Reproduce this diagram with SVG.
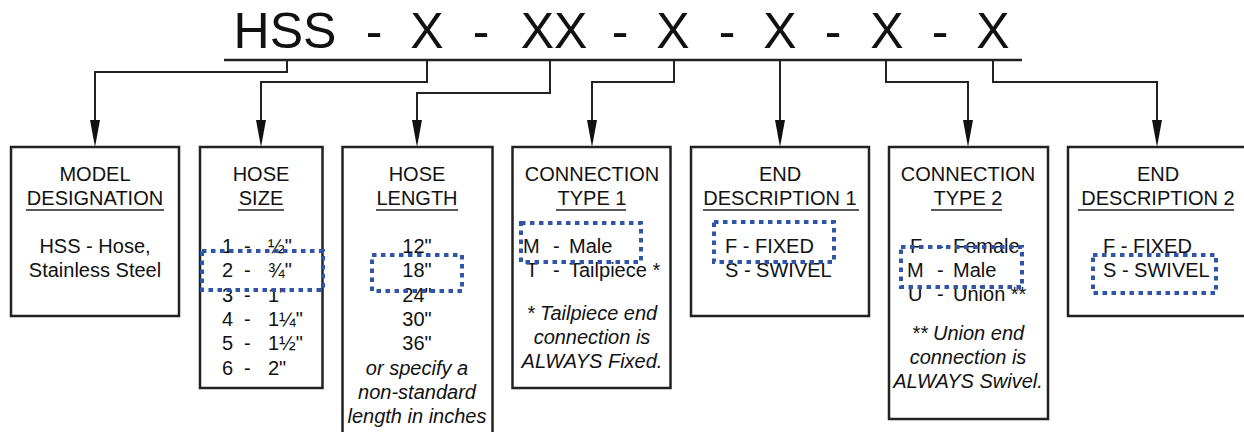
<svg xmlns="http://www.w3.org/2000/svg" width="1244" height="432" viewBox="0 0 1244 432">
  <style>
    text { font-family: "Liberation Sans", Arial, sans-serif; fill: #111; }
    .title { font-size: 50px; text-anchor: middle; }
    .t { font-size: 20px; }
    .c { text-anchor: middle; }
    .i { font-style: italic; }
    .box { fill: #fff; stroke: #222; stroke-width: 2.5; }
    .ul { stroke: #222; stroke-width: 1.6; }
    .link { fill: none; stroke: #222; stroke-width: 2; }
    .hl { fill: none; stroke: #2f55a8; stroke-width: 4; stroke-dasharray: 4.5 4.5; }
  </style>
  <defs>
    <marker id="arrow" markerUnits="userSpaceOnUse" markerWidth="28" markerHeight="11" refX="20" refY="5" orient="auto">
      <path d="M0,0 L27,5 L0,10 Z" fill="#111"/>
    </marker>
  </defs>

  <rect width="1244" height="432" fill="#fff"/>

  <!-- part number header -->
  <g id="header">
    <text class="title" y="48"><tspan x="285">HSS</tspan><tspan x="374">-</tspan><tspan x="427">X</tspan><tspan x="481">-</tspan><tspan x="554">XX</tspan><tspan x="620">-</tspan><tspan x="673">X</tspan><tspan x="727">-</tspan><tspan x="780">X</tspan><tspan x="833">-</tspan><tspan x="887">X</tspan><tspan x="940">-</tspan><tspan x="993">X</tspan></text>
    <line x1="224" y1="60" x2="1022" y2="60" stroke="#222" stroke-width="2.5"/>
  </g>

  <!-- connectors from each code field down to its box -->
  <g id="connectors">
    <polyline class="link" points="287,60 287,72 95,72 95,140" marker-end="url(#arrow)"/>
    <polyline class="link" points="427,60 427,82 261,82 261,140" marker-end="url(#arrow)"/>
    <polyline class="link" points="550,60 550,93 417,93 417,140" marker-end="url(#arrow)"/>
    <polyline class="link" points="674,60 674,82 592,82 592,140" marker-end="url(#arrow)"/>
    <polyline class="link" points="780,60 780,140" marker-end="url(#arrow)"/>
    <polyline class="link" points="886,60 886,82 968,82 968,140" marker-end="url(#arrow)"/>
    <polyline class="link" points="993,60 993,82 1157,82 1157,140" marker-end="url(#arrow)"/>
  </g>

  <!-- model designation -->
  <g id="model">
    <rect class="box" x="11" y="147" width="168" height="169"/>
    <text class="t c" x="95" y="181">MODEL</text>
    <text class="t c" x="95" y="205">DESIGNATION</text>
    <line class="ul" x1="26" y1="210" x2="164" y2="210"/>
    <text class="t c" x="95" y="253">HSS - Hose,</text>
    <text class="t c" x="95" y="277">Stainless Steel</text>
  </g>

  <!-- hose size -->
  <g id="hose-size">
    <rect class="box" x="200" y="147" width="122.5" height="241"/>
    <text class="t c" x="261" y="181">HOSE</text>
    <text class="t c" x="261" y="205">SIZE</text>
    <line class="ul" x1="238" y1="210" x2="284" y2="210"/>
    <text class="t" y="253"><tspan x="222">1</tspan><tspan x="244">-</tspan><tspan x="268">½"</tspan></text>
    <text class="t" y="277"><tspan x="222">2</tspan><tspan x="244">-</tspan><tspan x="268">¾"</tspan></text>
    <text class="t" y="302"><tspan x="222">3</tspan><tspan x="244">-</tspan><tspan x="268">1"</tspan></text>
    <text class="t" y="326"><tspan x="222">4</tspan><tspan x="244">-</tspan><tspan x="268">1¼"</tspan></text>
    <text class="t" y="350"><tspan x="222">5</tspan><tspan x="244">-</tspan><tspan x="268">1½"</tspan></text>
    <text class="t" y="375"><tspan x="222">6</tspan><tspan x="244">-</tspan><tspan x="268">2"</tspan></text>
    <rect class="hl" x="202" y="251" width="121" height="39"/>
  </g>

  <!-- hose length -->
  <g id="hose-length">
    <rect class="box" x="342.5" y="147" width="150" height="300"/>
    <text class="t c" x="417" y="181">HOSE</text>
    <text class="t c" x="417" y="205">LENGTH</text>
    <line class="ul" x1="376" y1="210" x2="458" y2="210"/>
    <text class="t c" x="417" y="253">12"</text>
    <text class="t c" x="417" y="277">18"</text>
    <text class="t c" x="417" y="302">24"</text>
    <text class="t c" x="417" y="326">30"</text>
    <text class="t c" x="417" y="350">36"</text>
    <text class="t c i" x="417" y="375">or specify a</text>
    <text class="t c i" x="417" y="399">non-standard</text>
    <text class="t c i" x="417" y="423">length in inches</text>
    <rect class="hl" x="372" y="255" width="90" height="36"/>
  </g>

  <!-- connection type 1 -->
  <g id="connection-1">
    <rect class="box" x="512.5" y="147" width="158" height="241"/>
    <text class="t c" x="592" y="181">CONNECTION</text>
    <text class="t c" x="592" y="205">TYPE 1</text>
    <line class="ul" x1="556" y1="210" x2="626" y2="210"/>
    <text class="t" y="253"><tspan x="523">M</tspan><tspan x="553">-</tspan><tspan x="569">Male</tspan></text>
    <text class="t" y="277"><tspan x="526">T</tspan><tspan x="553">-</tspan><tspan x="569">Tailpiece *</tspan></text>
    <text class="t c i" x="592" y="320">* Tailpiece end</text>
    <text class="t c i" x="592" y="344">connection is</text>
    <text class="t c i" x="592" y="368">ALWAYS Fixed.</text>
    <rect class="hl" x="521" y="223" width="120" height="39"/>
  </g>

  <!-- end description 1 -->
  <g id="end-1">
    <rect class="box" x="691" y="147" width="178" height="169"/>
    <text class="t c" x="780" y="181">END</text>
    <text class="t c" x="780" y="205">DESCRIPTION 1</text>
    <line class="ul" x1="703" y1="210" x2="859" y2="210"/>
    <text class="t" x="725" y="253">F - FIXED</text>
    <text class="t" x="725" y="277">S - SWIVEL</text>
    <rect class="hl" x="714" y="222" width="120" height="40"/>
  </g>

  <!-- connection type 2 -->
  <g id="connection-2">
    <rect class="box" x="889" y="147" width="159" height="272"/>
    <text class="t c" x="968" y="181">CONNECTION</text>
    <text class="t c" x="968" y="205">TYPE 2</text>
    <line class="ul" x1="931" y1="210" x2="1002" y2="210"/>
    <text class="t" y="253"><tspan x="910">F</tspan><tspan x="937">-</tspan><tspan x="953">Female</tspan></text>
    <text class="t" y="277"><tspan x="907">M</tspan><tspan x="937">-</tspan><tspan x="953">Male</tspan></text>
    <text class="t" y="301"><tspan x="908">U</tspan><tspan x="937">-</tspan><tspan x="953">Union **</tspan></text>
    <text class="t c i" x="968" y="340">** Union end</text>
    <text class="t c i" x="968" y="364">connection is</text>
    <text class="t c i" x="968" y="388">ALWAYS Swivel.</text>
    <rect class="hl" x="901" y="247" width="121" height="40"/>
  </g>

  <!-- end description 2 -->
  <g id="end-2">
    <rect class="box" x="1068" y="147" width="190" height="169"/>
    <text class="t c" x="1158" y="181">END</text>
    <text class="t c" x="1158" y="205">DESCRIPTION 2</text>
    <line class="ul" x1="1078" y1="210" x2="1234" y2="210"/>
    <text class="t" x="1103" y="253">F - FIXED</text>
    <text class="t" x="1103" y="277">S - SWIVEL</text>
    <rect class="hl" x="1093" y="255" width="123" height="38"/>
  </g>
</svg>
